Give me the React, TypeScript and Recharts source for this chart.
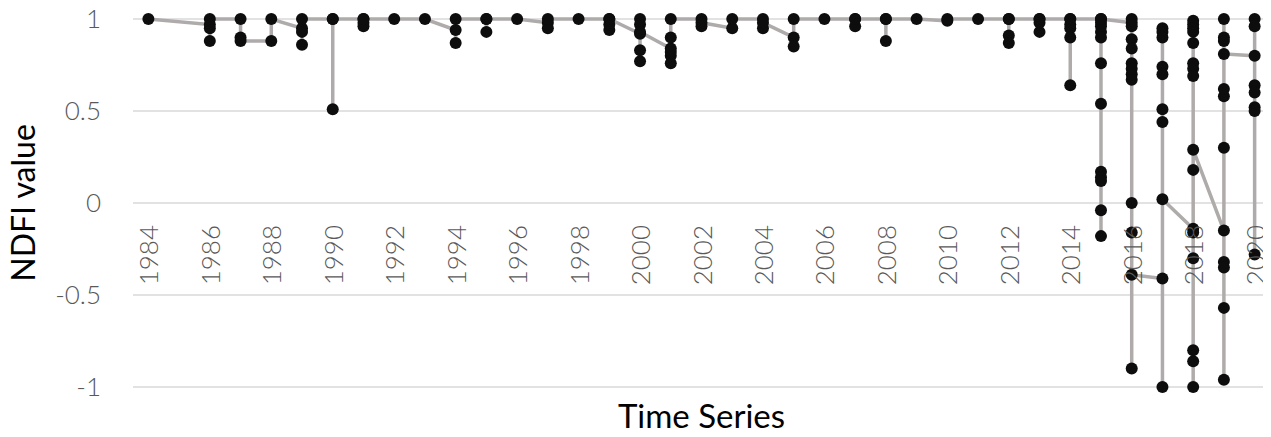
import React from 'react';
import { LineChart, Line, XAxis, YAxis, CartesianGrid } from 'recharts';

// Observation years (1985 has no observation)
const years: number[] = [
  1984, 1986, 1987, 1988, 1989, 1990, 1991, 1992, 1993, 1994, 1995, 1996, 1997, 1998,
  1999, 2000, 2001, 2002, 2003, 2004, 2005, 2006, 2007, 2008, 2009, 2010, 2011, 2012,
  2013, 2014, 2015, 2016, 2017, 2018, 2019, 2020,
];

// NDFI observations for each year, in acquisition order
const ndfiByYear: number[][] = [
  [1.0],
  [0.97, 0.88, 0.95, 1.0],
  [1.0, 0.9, 0.88],
  [0.88, 1.0],
  [0.95, 0.86, 0.93, 1.0],
  [1.0, 0.51, 1.0],
  [1.0, 0.96, 0.98, 1.0],
  [1.0],
  [1.0],
  [0.94, 0.87, 1.0],
  [1.0, 0.93, 1.0],
  [1.0],
  [0.98, 0.95, 1.0],
  [1.0],
  [1.0, 0.94, 0.97, 1.0],
  [0.92, 1.0, 0.97, 0.77, 0.83, 0.93],
  [0.84, 0.76, 0.8, 0.82, 0.9, 1.0],
  [1.0, 0.96, 0.98],
  [0.95, 1.0],
  [1.0, 0.95, 0.98],
  [0.9, 0.85, 1.0],
  [1.0],
  [1.0, 0.96, 1.0],
  [1.0, 0.88, 1.0],
  [1.0],
  [0.99, 1.0],
  [1.0],
  [1.0, 0.91, 0.87, 1.0],
  [1.0, 0.93, 0.98, 1.0],
  [1.0, 0.97, 0.95, 0.9, 0.64, 1.0],
  [1.0, 0.98, 0.93, 0.76, 0.54, 0.17, 0.14, 0.12, -0.04, -0.18, 0.96, 0.9, 1.0],
  [0.98, 1.0, 0.96, 0.89, 0.84, 0.76, 0.73, 0.7, 0.67, 0.0, -0.16, -0.9, -0.39],
  [-0.41, -1.0, 0.95, 0.93, 0.9, 0.74, 0.7, 0.51, 0.44, 0.02],
  [-0.14, -0.16, -0.3, -0.8, -0.86, -1.0, 0.18, 0.99, 0.97, 0.95, 0.93, 0.87, 0.76, 0.73, 0.69, 0.29],
  [-0.15, -0.32, -0.35, -0.57, -0.96, 0.3, 0.58, 0.62, 1.0, 0.9, 0.88, 0.81],
  [0.8, 1.0, 0.96, 0.64, 0.6, 0.52, 0.5, -0.28],
];

const xTicks: number[] = [
  1984, 1986, 1988, 1990, 1992, 1994, 1996, 1998, 2000, 2002, 2004, 2006, 2008, 2010,
  2012, 2014, 2016, 2018, 2020,
];
const yTicks: number[] = [-1, -0.5, 0, 0.5, 1];

const data = years.flatMap((year, i) => ndfiByYear[i].map((v) => ({ year, ndfi: v })));

const W = 1271;
const H = 437;
const M = { top: 19, right: 1, left: 0, bottom: 0 };
const X_AXIS_H = 50;
const Y_MIN = -1;
const Y_MAX = 1;
const plotTop = M.top;
const plotBottom = H - M.bottom - X_AXIS_H;
const zeroY = plotTop + ((Y_MAX - 0) / (Y_MAX - Y_MIN)) * (plotBottom - plotTop);

const FONT = 'Lato, "Open Sans", sans-serif';

const YearTick = (props: any) => {
  const { x, payload } = props;
  return (
    <text
      transform={`translate(${x},${zeroY + 22}) rotate(-90)`}
      textAnchor="end"
      dominantBaseline="central"
      fill="#595959"
      fontSize={26}
      fontWeight={300}
      fontFamily={FONT}
    >
      {payload.value}
    </text>
  );
};

const XTitle = (props: any) => {
  const vb = props.viewBox || {};
  return (
    <text
      x={vb.x + vb.width / 2}
      y={vb.y + 41}
      textAnchor="middle"
      fill="#000"
      fontSize={33}
      fontFamily={FONT}
    >
      Time Series
    </text>
  );
};

const YTitle = (props: any) => {
  const vb = props.viewBox || {};
  const bx = 35;
  const cy = vb.y + vb.height / 2;
  return (
    <text
      transform={`translate(${bx},${cy}) rotate(-90)`}
      textAnchor="middle"
      fill="#000"
      fontSize={32}
      fontFamily={FONT}
    >
      NDFI value
    </text>
  );
};

export default function App() {
  return (
    <div style={{ width: W, height: H, margin: '-8px 0 0 -8px' }}>
      <LineChart width={W} height={H} data={data} margin={M}>
        <CartesianGrid vertical={false} stroke="#d9d9d9" strokeWidth={1.5} />
        <XAxis
          type="number"
          dataKey="year"
          domain={[1983.5, 2020.5]}
          ticks={xTicks}
          axisLine={false}
          tickLine={false}
          height={X_AXIS_H}
          tick={<YearTick />}
          interval={0}
          label={<XTitle />}
        />
        <YAxis
          type="number"
          domain={[Y_MIN, Y_MAX]}
          ticks={yTicks}
          axisLine={false}
          tickLine={false}
          width={133}
          tickMargin={26}
          tick={{ fill: '#595959', fontSize: 26, fontWeight: 300, fontFamily: FONT }}
          label={<YTitle />}
        />
        <Line
          type="linear"
          dataKey="ndfi"
          stroke="#afabab"
          strokeWidth={3.5}
          dot={{ r: 6, fill: '#0d0d0d', stroke: 'none' }}
          activeDot={false}
          isAnimationActive={false}
        />
      </LineChart>
    </div>
  );
}
